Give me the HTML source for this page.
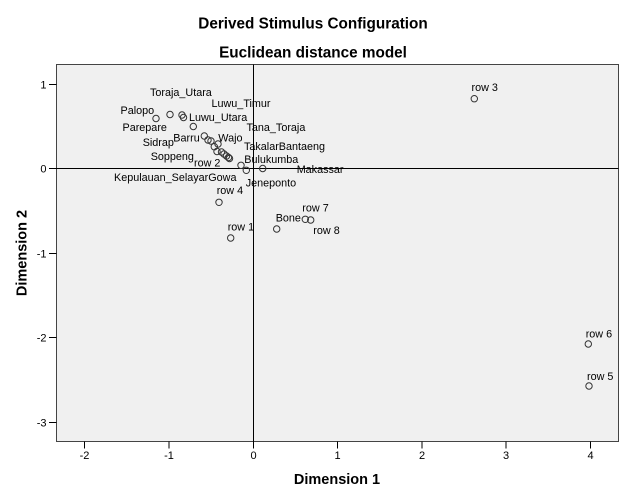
<!DOCTYPE html>
<html>
<head>
<meta charset="utf-8">
<style>
  html, body { margin: 0; padding: 0; background: #ffffff; }
  svg { display: block; }
  text { font-family: "Liberation Sans", Arial, sans-serif; fill: #000; }
  .lbl { font-size: 10.8px; }
  .tick { font-size: 11px; }
  .ttl { font-size: 15.3px; font-weight: bold; }
  .ax { font-size: 14.5px; font-weight: bold; }
</style>
</head>
<body>
<svg width="626" height="501" viewBox="0 0 626 501" xmlns="http://www.w3.org/2000/svg">
  <rect x="0" y="0" width="626" height="501" fill="#ffffff"/>

  <!-- Titles -->
  <text class="ttl" x="313" y="28.3" text-anchor="middle">Derived Stimulus Configuration</text>
  <text class="ttl" x="313" y="57.7" text-anchor="middle">Euclidean distance model</text>

  <!-- Plot area -->
  <rect x="56.5" y="64.5" width="562" height="377" fill="#f0f0f0" stroke="#444444" stroke-width="1"/>

  <!-- Zero reference lines -->
  <line x1="253.5" y1="64.5" x2="253.5" y2="441.5" stroke="#000" stroke-width="1"/>
  <line x1="56.5" y1="168.5" x2="618.5" y2="168.5" stroke="#000" stroke-width="1"/>

  <!-- Y ticks -->
  <g stroke="#000" stroke-width="1">
    <line x1="49" y1="84.5" x2="56.5" y2="84.5"/>
    <line x1="49" y1="168.5" x2="56.5" y2="168.5"/>
    <line x1="49" y1="253.5" x2="56.5" y2="253.5"/>
    <line x1="49" y1="337.5" x2="56.5" y2="337.5"/>
    <line x1="49" y1="422.5" x2="56.5" y2="422.5"/>
  </g>
  <g class="tick" text-anchor="end">
    <text class="tick" x="46.5" y="88.5">1</text>
    <text class="tick" x="46.5" y="172.5">0</text>
    <text class="tick" x="46.5" y="257.5">-1</text>
    <text class="tick" x="46.5" y="341.5">-2</text>
    <text class="tick" x="46.5" y="426.5">-3</text>
  </g>

  <!-- X ticks -->
  <g stroke="#000" stroke-width="1">
    <line x1="84.5" y1="441.5" x2="84.5" y2="448.5"/>
    <line x1="169" y1="441.5" x2="169" y2="448.5"/>
    <line x1="253.5" y1="441.5" x2="253.5" y2="448.5"/>
    <line x1="337.5" y1="441.5" x2="337.5" y2="448.5"/>
    <line x1="422" y1="441.5" x2="422" y2="448.5"/>
    <line x1="506" y1="441.5" x2="506" y2="448.5"/>
    <line x1="590.5" y1="441.5" x2="590.5" y2="448.5"/>
  </g>
  <g text-anchor="middle">
    <text class="tick" x="84.5" y="459">-2</text>
    <text class="tick" x="169" y="459">-1</text>
    <text class="tick" x="253.5" y="459">0</text>
    <text class="tick" x="337.5" y="459">1</text>
    <text class="tick" x="422" y="459">2</text>
    <text class="tick" x="506" y="459">3</text>
    <text class="tick" x="590.5" y="459">4</text>
  </g>

  <!-- Axis titles -->
  <text class="ax" x="337" y="484" text-anchor="middle">Dimension 1</text>
  <text class="ax" x="26.5" y="253" text-anchor="middle" transform="rotate(-90 26.5 253)">Dimension 2</text>

  <!-- Points -->
  <g fill="none" stroke="#333333" stroke-width="1">
    <circle cx="474.3" cy="98.7" r="3.2"/>
    <circle cx="156" cy="118.5" r="3.2"/>
    <circle cx="170" cy="114.5" r="3.2"/>
    <circle cx="182" cy="115" r="3.2"/>
    <circle cx="183.5" cy="117.5" r="3.2"/>
    <circle cx="193.3" cy="126.5" r="3.2"/>
    <circle cx="204.3" cy="136" r="3.2"/>
    <circle cx="208" cy="140" r="3.2"/>
    <circle cx="211" cy="141" r="3.2"/>
    <circle cx="214.3" cy="146.7" r="3.2"/>
    <circle cx="218" cy="144" r="3.2"/>
    <circle cx="217" cy="151.5" r="3.2"/>
    <circle cx="221.5" cy="152" r="3.2"/>
    <circle cx="224" cy="154" r="3.2"/>
    <circle cx="226.5" cy="156" r="3.2"/>
    <circle cx="228.5" cy="157.5" r="3.2"/>
    <circle cx="229.5" cy="158.5" r="3.2"/>
    <circle cx="241" cy="165.3" r="3.2"/>
    <circle cx="246.3" cy="170.3" r="3.2"/>
    <circle cx="262.7" cy="168.5" r="3.2"/>
    <circle cx="219" cy="202.3" r="3.2"/>
    <circle cx="230.7" cy="238" r="3.2"/>
    <circle cx="276.7" cy="229" r="3.2"/>
    <circle cx="305.3" cy="219.3" r="3.2"/>
    <circle cx="310.7" cy="220" r="3.2"/>
    <circle cx="588.3" cy="344" r="3.2"/>
    <circle cx="589" cy="386" r="3.2"/>
  </g>

  <!-- Point labels -->
  <g>
    <text class="lbl" x="471.5" y="91">row 3</text>
    <text class="lbl" x="150" y="96">Toraja_Utara</text>
    <text class="lbl" x="211.5" y="107">Luwu_Timur</text>
    <text class="lbl" x="120.5" y="114">Palopo</text>
    <text class="lbl" x="189" y="121">Luwu_Utara</text>
    <text class="lbl" x="122.5" y="131">Parepare</text>
    <text class="lbl" x="246.5" y="131">Tana_Toraja</text>
    <text class="lbl" x="173.3" y="141.5">Barru</text>
    <text class="lbl" x="218.3" y="141.5">Wajo</text>
    <text class="lbl" x="142.7" y="146">Sidrap</text>
    <text class="lbl" x="244" y="150">TakalarBantaeng</text>
    <text class="lbl" x="150.7" y="160">Soppeng</text>
    <text class="lbl" x="244.3" y="163">Bulukumba</text>
    <text class="lbl" x="194" y="166.5">row 2</text>
    <text class="lbl" x="296.7" y="173">Makassar</text>
    <text class="lbl" x="114" y="181">Kepulauan_SelayarGowa</text>
    <text class="lbl" x="245.7" y="186.5">Jeneponto</text>
    <text class="lbl" x="216.7" y="194">row 4</text>
    <text class="lbl" x="302.3" y="211.5">row 7</text>
    <text class="lbl" x="275.7" y="221.5">Bone</text>
    <text class="lbl" x="227.7" y="230.5">row 1</text>
    <text class="lbl" x="313.3" y="234">row 8</text>
    <text class="lbl" x="585.7" y="337.5">row 6</text>
    <text class="lbl" x="587" y="380">row 5</text>
  </g>
</svg>
</body>
</html>
